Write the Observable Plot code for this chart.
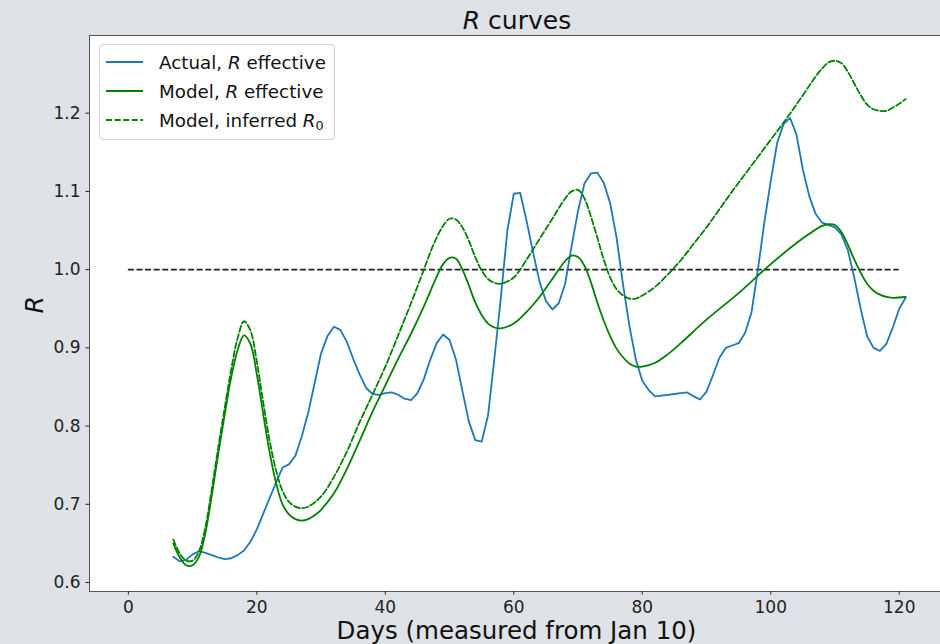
<!DOCTYPE html>
<html>
<head>
<meta charset="utf-8">
<script src="https://cdn.jsdelivr.net/npm/d3@7"></script>
<script src="https://cdn.jsdelivr.net/npm/@observablehq/plot@0.6"></script>
<style>
  html, body { margin: 0; padding: 0; background: #dfe2e6; }
  #wrap { position: relative; width: 940px; height: 644px; overflow: hidden;
          font-family: "DejaVu Sans", sans-serif; color: #111; }
  #chart { position: absolute; left: 0; top: 0; }
  #title { position: absolute; left: 89px; width: 856px; top: 6px; text-align: center;
           font-size: 25px; line-height: 30px; }
  #legend { position: absolute; left: 99px; top: 44px; width: 236px; height: 96px;
            background: rgba(255,255,255,0.85); border: 1px solid #d0d0d0; border-radius: 4px;
            box-sizing: border-box; font-size: 18.3px; }
  .row { position: absolute; left: 5px; height: 24px; display: flex; align-items: center; white-space: nowrap; }
  .row svg { width: 39px; height: 24px; margin-right: 15px; flex: none; }
  .sub { font-size: 70%; position: relative; top: 0.3em; font-style: normal; }
</style>
</head>
<body>
<div id="wrap">
  <div id="chart"></div>
  <div id="title"><i>R</i> curves</div>
  <div id="legend"></div>
</div>
<script>
// Days since Jan 10 and observed effective reproduction number
const actualDays = d3.range(7, 122);
const actualR = [
  0.633, 0.627, 0.629, 0.636, 0.640, 0.638, 0.635, 0.632, 0.630, 0.631,   // 7-16
  0.635, 0.641, 0.652, 0.668, 0.688, 0.708, 0.728, 0.747, 0.751, 0.762,   // 17-26
  0.787, 0.817, 0.855, 0.893, 0.915, 0.927, 0.923, 0.908, 0.886, 0.866,   // 27-36
  0.849, 0.841, 0.840, 0.842, 0.843, 0.840, 0.835, 0.833, 0.842, 0.860,   // 37-46
  0.885, 0.906, 0.917, 0.910, 0.885, 0.845, 0.806, 0.782, 0.780, 0.814,   // 47-56
  0.888, 0.965, 1.050, 1.097, 1.098, 1.062, 1.022, 0.985, 0.960, 0.949,   // 57-66
  0.957, 0.982, 1.030, 1.075, 1.110, 1.123, 1.124, 1.111, 1.085, 1.041,   // 67-76
  0.981, 0.928, 0.885, 0.858, 0.846, 0.838, 0.839, 0.840, 0.841, 0.842,   // 77-86
  0.843, 0.838, 0.834, 0.844, 0.865, 0.887, 0.900, 0.903, 0.906, 0.919,   // 87-96
  0.945, 1.000, 1.060, 1.113, 1.162, 1.186, 1.194, 1.173, 1.128, 1.094,   // 97-106
  1.071, 1.060, 1.057, 1.054, 1.045, 1.025, 0.990, 0.950, 0.915, 0.900,   // 107-116
  0.896, 0.905, 0.926, 0.950, 0.964                                        // 117-121
];

// Model: effective R
const modelDays = [7, 8, 9, 10, 11, 12, 13, 14, 15, 16, 17, 18, 19, 20, 21, 22, 23, 24, 25, 26,
  27, 28, 29, 30, 32, 34, 36, 38, 40, 42, 44, 46, 48, 49, 50, 51, 52, 53, 54, 55, 56, 57, 58,
  60, 62, 64, 66, 68, 69, 70, 71, 72, 73, 74, 75, 76, 77, 78, 79, 80, 82, 84, 86, 90, 95, 100,
  105, 108, 109, 110, 111, 112, 113, 114, 115, 116, 117, 118, 119, 121];
const modelR = [0.650, 0.632, 0.622, 0.622, 0.633, 0.664, 0.712, 0.765, 0.815, 0.862, 0.897,
  0.916, 0.905, 0.866, 0.815, 0.766, 0.727, 0.700, 0.687, 0.681, 0.679, 0.681, 0.686, 0.693,
  0.714, 0.745, 0.781, 0.818, 0.852, 0.886, 0.918, 0.953, 0.991, 1.007, 1.015, 1.014, 1.000,
  0.980, 0.958, 0.942, 0.931, 0.926, 0.925, 0.931, 0.946, 0.965, 0.988, 1.011, 1.018, 1.016,
  1.005, 0.984, 0.958, 0.935, 0.915, 0.899, 0.888, 0.880, 0.876, 0.876, 0.881, 0.892, 0.906,
  0.936, 0.970, 1.007, 1.040, 1.056, 1.058, 1.057, 1.048, 1.032, 1.013, 0.996, 0.982, 0.973,
  0.968, 0.965, 0.964, 0.965];

// Model: inferred basic reproduction number R0
const r0Days = [7, 8, 9, 10, 11, 12, 13, 14, 15, 16, 17, 18, 19, 20, 21, 22, 23, 24, 25, 26,
  27, 28, 30, 32, 34, 36, 38, 40, 42, 44, 46, 47, 48, 49, 50, 51, 52, 53, 54, 55, 56, 57, 58,
  60, 62, 64, 66, 68, 69, 70, 71, 72, 73, 74, 75, 76, 77, 78, 79, 80, 82, 84, 86, 88, 90, 92,
  94, 96, 98, 100, 102, 104, 106, 107, 108, 109, 110, 111, 112, 113, 114, 115, 116, 117, 118,
  119, 120, 121];
const r0R = [0.655, 0.637, 0.628, 0.628, 0.640, 0.671, 0.720, 0.773, 0.823, 0.872, 0.912,
  0.934, 0.922, 0.882, 0.830, 0.781, 0.743, 0.717, 0.703, 0.697, 0.695, 0.697, 0.710, 0.735,
  0.767, 0.805, 0.840, 0.876, 0.916, 0.957, 1.000, 1.022, 1.041, 1.056, 1.065, 1.064, 1.054,
  1.037, 1.016, 0.999, 0.988, 0.983, 0.982, 0.990, 1.013, 1.039, 1.065, 1.091, 1.100, 1.102,
  1.091, 1.068, 1.041, 1.013, 0.990, 0.975, 0.967, 0.963, 0.963, 0.967, 0.978, 0.994, 1.012,
  1.033, 1.054, 1.077, 1.100, 1.122, 1.144, 1.166, 1.188, 1.211, 1.235, 1.247, 1.257, 1.265,
  1.267, 1.264, 1.253, 1.238, 1.223, 1.211, 1.205, 1.203, 1.203, 1.207, 1.212, 1.218];

// Threshold R = 1 drawn across days 0–120
const thresholdR = 1;
const thresholdSpan = [0, 120];

const xTicks = [0, 20, 40, 60, 80, 100, 120];
const yTicks = [0.6, 0.7, 0.8, 0.9, 1.0, 1.1, 1.2];

const BLUE = "#1f77b4";
const GREEN = "#008000";
const DASH = "6,2.6";
const LW = 1.8;

const actual = actualDays.map((d, i) => ({day: d, r: actualR[i]}));
const model = modelDays.map((d, i) => ({day: d, r: modelR[i]}));
const r0 = r0Days.map((d, i) => ({day: d, r: r0R[i]}));

const chart = Plot.plot({
  width: 945,
  height: 644,
  marginLeft: 89,
  marginRight: 1,
  marginTop: 35,
  marginBottom: 53,
  style: {background: "transparent", maxWidth: "none", overflow: "visible",
          fontFamily: "DejaVu Sans", fontSize: "17px", color: "#222"},
  x: {domain: [-6.05, 127.05]},
  y: {domain: [0.5885, 1.2993]},
  marks: [
    Plot.frame({fill: "white", stroke: null}),
    Plot.ruleY([thresholdR], {x1: thresholdSpan[0], x2: thresholdSpan[1], stroke: "#222",
      strokeWidth: 1.6, strokeDasharray: DASH}),
    Plot.line(actual, {x: "day", y: "r", stroke: BLUE, strokeWidth: LW}),
    Plot.line(model, {x: "day", y: "r", stroke: GREEN, strokeWidth: LW, curve: "catmull-rom"}),
    Plot.line(r0, {x: "day", y: "r", stroke: GREEN, strokeWidth: LW, curve: "catmull-rom",
      strokeDasharray: DASH}),
    Plot.frame({stroke: "#555", strokeWidth: 1}),
    Plot.axisX({ticks: xTicks, tickSize: 3.5, tickPadding: 6, label: null, fontSize: 17}),
    Plot.axisY({ticks: yTicks, tickSize: 3.5, tickPadding: 5.5, label: null, fontSize: 17,
      tickFormat: d3.format(".1f")}),
    Plot.text(["R"], {frameAnchor: "left", dx: -55, rotate: -90, fontSize: 25,
      fontStyle: "italic", fill: "#111"}),
    Plot.text(["Days (measured from Jan 10)"], {frameAnchor: "bottom", dx: -0.5, dy: 40,
      fontSize: 24.5, fill: "#111", lineAnchor: "middle"})
  ]
});
document.getElementById("chart").appendChild(chart);

// Legend
const legendItems = [
  {html: "Actual, <i>R</i> effective", stroke: BLUE, dash: null, cy: 62},
  {html: "Model, <i>R</i> effective", stroke: GREEN, dash: null, cy: 91},
  {html: "Model, inferred <i>R</i><span class=\"sub\">0</span>", stroke: GREEN, dash: DASH, cy: 120}
];
const legend = document.getElementById("legend");
for (const item of legendItems) {
  const row = document.createElement("div");
  row.className = "row";
  row.style.top = (item.cy - 44 - 12 - 1) + "px";
  row.innerHTML =
    `<svg viewBox="0 0 39 24"><line x1="1" x2="38" y1="12" y2="12" stroke="${item.stroke}" ` +
    `stroke-width="${LW}"${item.dash ? ` stroke-dasharray="${item.dash}"` : ""}/></svg>` +
    `<span>${item.html}</span>`;
  legend.appendChild(row);
}
</script>
</body>
</html>
